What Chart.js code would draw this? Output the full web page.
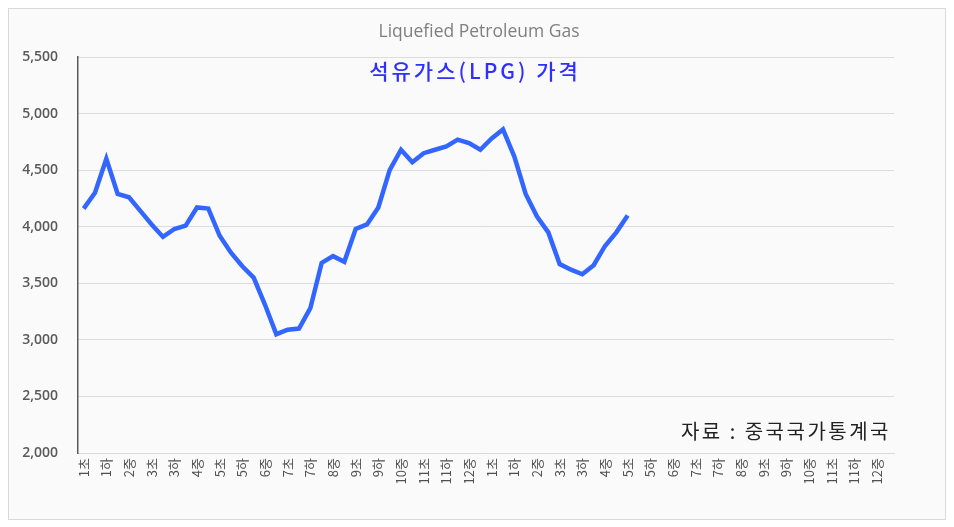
<!DOCTYPE html>
<html>
<head>
<meta charset="utf-8">
<script src="https://cdn.jsdelivr.net/npm/chart.js@4.4.1/dist/chart.umd.min.js"></script>
<style>
  body { margin: 0; background: #ffffff; }
  #box {
    position: absolute; left: 8px; top: 8px;
    width: 936px; height: 510px;
    border: 1px solid #d9d9d9; background: #fafafa;
  }
</style>
</head>
<body>
<div id="box"><canvas id="lpgChart" width="936" height="510"></canvas></div>
<script>
// 순(초/중/하) 단위 구간, 2년치
const months = [1, 2, 3, 4, 5, 6, 7, 8, 9, 10, 11, 12];
const parts = ['초', '중', '하'];
const periods = [];
for (let y = 0; y < 2; y++) {
    months.forEach(m => parts.forEach(p => periods.push(m + p)));
}

// LPG 가격 (위안/톤), 그림에서 읽은 값
const lpgPrice = [
    4160, 4300, 4600, 4290, 4260, 4140, 4020, 3910, 3980, 4010,
    4170, 4160, 3920, 3770, 3650, 3550, 3310, 3050, 3090, 3100,
    3280, 3680, 3740, 3690, 3980, 4020, 4170, 4500, 4680, 4570,
    4650, 4680, 4710, 4770, 4740, 4680, 4780, 4860, 4620, 4290,
    4090, 3950, 3670, 3620, 3580, 3660, 3830, 3950, 4100
];

const yTicks = [2000, 2500, 3000, 3500, 4000, 4500, 5000, 5500];

const chartTitle = 'Liquefied Petroleum Gas';
const subTitle = '석유가스(LPG) 가격';
const sourceNote = '자료 : 중국국가통계국';

const notes = {
    id: 'notes',
    afterDraw(chart) {
        const c = chart.ctx;
        c.save();
        c.textBaseline = 'middle';
        c.textAlign = 'center';
        c.fillStyle = '#7f7f7f';
        c.font = '17.5px "Open Sans"';
        c.fillText(chartTitle, 470, 23);
        c.fillStyle = '#2f2fff';
        c.font = '500 21px "Noto Sans CJK KR"';
        c.letterSpacing = '3px';
        c.fillText(subTitle, 466, 62);
        c.fillStyle = '#222222';
        c.font = '20px "Noto Sans CJK KR"';
        c.letterSpacing = '2.5px';
        c.textAlign = 'right';
        c.fillText(sourceNote, 882, 422);
        c.restore();
    }
};

const ctx = document.getElementById('lpgChart').getContext('2d');
new Chart(ctx, {
    type: 'line',
    data: {
        labels: periods,
        datasets: [{
            label: 'LPG',
            data: lpgPrice,
            borderColor: '#3366ff',
            borderWidth: 4.5,
            pointRadius: 0,
            fill: false,
            tension: 0
        }]
    },
    options: {
        responsive: false,
        animation: false,
        layout: { padding: { left: 10, right: 51, top: 48, bottom: 0 } },
        plugins: {
            legend: { display: false },
            tooltip: { enabled: false },
            title: { display: false }
        },
        scales: {
            x: {
                offset: true,
                grid: { display: false, drawTicks: false },
                border: { color: '#d9d9d9' },
                afterFit: s => { s.height = 66; },
                ticks: {
                    autoSkip: false,
                    maxRotation: 90,
                    minRotation: 90,
                    color: '#505050',
                    padding: 5,
                    font: { family: '"Noto Sans CJK KR"', size: 13 },
                    callback: function (v, i) { return i % 2 === 0 ? periods[i] : ''; }
                }
            },
            y: {
                min: 2000,
                max: 5500,
                afterBuildTicks: s => { s.ticks = yTicks.map(v => ({ value: v })); },
                afterFit: s => { s.width = 59; },
                grid: { color: '#dcdcdc', drawTicks: false },
                border: { color: '#595959', width: 1.5 },
                ticks: {
                    color: '#595959',
                    padding: 20,
                    font: { family: '"Open Sans"', size: 14, weight: '600' },
                    callback: v => v.toLocaleString('en-US')
                }
            }
        }
    },
    plugins: [notes]
});
</script>
</body>
</html>
